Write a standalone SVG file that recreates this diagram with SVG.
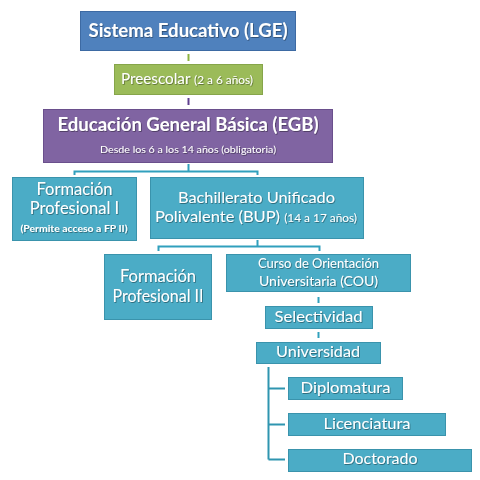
<svg xmlns="http://www.w3.org/2000/svg" width="480" height="480" viewBox="0 0 480 480">
<defs>
<filter id="ts" x="-5%" y="-20%" width="110%" height="140%">
<feDropShadow dx="0.7" dy="0.8" stdDeviation="0.4" flood-color="#000" flood-opacity="0.45"/>
</filter>
</defs>
<style>
text{font-family:Lato,"Liberation Sans",sans-serif;fill:#fff;text-anchor:middle;filter:url(#ts)}
.b{font-weight:bold}
.blue{fill:#4f81bd;stroke:#3d6aa3;stroke-width:1}
.green{fill:#9bbb59;stroke:#86a54a;stroke-width:1}
.purple{fill:#8064a2;stroke:#6a4f8c;stroke-width:1}
.teal{fill:#4bacc6;stroke:#3a93ac;stroke-width:1}
.c{fill:none;stroke-width:2}
</style>
<rect width="480" height="480" fill="#fff"/>
<g id="connectors">
<line class="c" x1="188.5" y1="54" x2="188.5" y2="61" stroke="#8db340"/>
<line class="c" x1="188.5" y1="98" x2="188.5" y2="105" stroke="#5f3f8f"/>
<path class="c" d="M188.5 164V171.5H74.5V175M188.5 171.5H257.5V175" stroke="#31a0bd"/>
<path class="c" d="M257.5 240V246.5H158.5V251M257.5 246.5H319.5V251" stroke="#31a0bd"/>
<line class="c" x1="318.5" y1="297" x2="318.5" y2="303" stroke="#31a0bd"/>
<line class="c" x1="318.5" y1="332" x2="318.5" y2="338" stroke="#31a0bd"/>
<path class="c" d="M268.5 367V459.5M268.5 388.5H285M268.5 424.5H285M268.5 459.5H285" stroke="#2f95b0" stroke-width="2.5"/>
</g>
<g id="lge">
<rect class="blue" x="80.5" y="11.5" width="215" height="39"/>
<text class="b" x="188" y="37" font-size="19" textLength="199" lengthAdjust="spacingAndGlyphs">Sistema Educativo (LGE)</text>
</g>
<g id="preescolar">
<rect class="green" x="114.5" y="64.5" width="148" height="30"/>
<text x="187" y="84" font-size="15.5" textLength="132" lengthAdjust="spacingAndGlyphs">Preescolar <tspan font-size="12">(2 a 6 años)</tspan></text>
</g>
<g id="egb">
<rect class="purple" x="43.5" y="109.5" width="289" height="53"/>
<text class="b" x="188" y="131" font-size="19.5" textLength="261" lengthAdjust="spacingAndGlyphs">Educación General Básica (EGB)</text>
<text x="188" y="153" font-size="10" textLength="176" lengthAdjust="spacingAndGlyphs">Desde los 6 a los 14 años (obligatoria)</text>
</g>
<g id="fp1">
<rect class="teal" x="12.5" y="177.5" width="124" height="63"/>
<text x="74.5" y="195" font-size="16.5">Formación</text>
<text x="74.5" y="214" font-size="16.5">Profesional I</text>
<text class="b" x="74" y="232" font-size="9" textLength="107" lengthAdjust="spacingAndGlyphs">(Permite acceso a FP II)</text>
</g>
<g id="bup">
<rect class="teal" x="150.5" y="177.5" width="213" height="61"/>
<text x="256.5" y="203" font-size="16" textLength="157" lengthAdjust="spacingAndGlyphs">Bachillerato Unificado</text>
<text x="256" y="222" font-size="16" textLength="202" lengthAdjust="spacingAndGlyphs">Polivalente (BUP)  <tspan font-size="11.5">(14 a 17 años)</tspan></text>
</g>
<g id="fp2">
<rect class="teal" x="104.5" y="254.5" width="107" height="65"/>
<text x="158" y="282" font-size="16.5">Formación</text>
<text x="158" y="302" font-size="16.5" textLength="91" lengthAdjust="spacingAndGlyphs">Profesional II</text>
</g>
<g id="cou">
<rect class="teal" x="226.5" y="254.5" width="184" height="37"/>
<text x="318.5" y="268" font-size="13.5" textLength="121" lengthAdjust="spacingAndGlyphs">Curso de Orientación</text>
<text x="318.5" y="286" font-size="13.5" textLength="119" lengthAdjust="spacingAndGlyphs">Universitaria (COU)</text>
</g>
<g id="selectividad">
<rect class="teal" x="265.5" y="306.5" width="107" height="22"/>
<text x="318.5" y="322" font-size="16" textLength="88" lengthAdjust="spacingAndGlyphs">Selectividad</text>
</g>
<g id="universidad">
<rect class="teal" x="256.5" y="342.5" width="124" height="21"/>
<text x="318" y="357" font-size="16" textLength="84" lengthAdjust="spacingAndGlyphs">Universidad</text>
</g>
<g id="diplomatura">
<rect class="teal" x="288.5" y="377.5" width="114" height="22"/>
<text x="345.5" y="393" font-size="16" textLength="90" lengthAdjust="spacingAndGlyphs">Diplomatura</text>
</g>
<g id="licenciatura">
<rect class="teal" x="288.5" y="413.5" width="157" height="22"/>
<text x="367" y="429" font-size="16" textLength="87" lengthAdjust="spacingAndGlyphs">Licenciatura</text>
</g>
<g id="doctorado">
<rect class="teal" x="288.5" y="449.5" width="183" height="22"/>
<text x="380" y="464" font-size="16" textLength="75" lengthAdjust="spacingAndGlyphs">Doctorado</text>
</g>
</svg>
